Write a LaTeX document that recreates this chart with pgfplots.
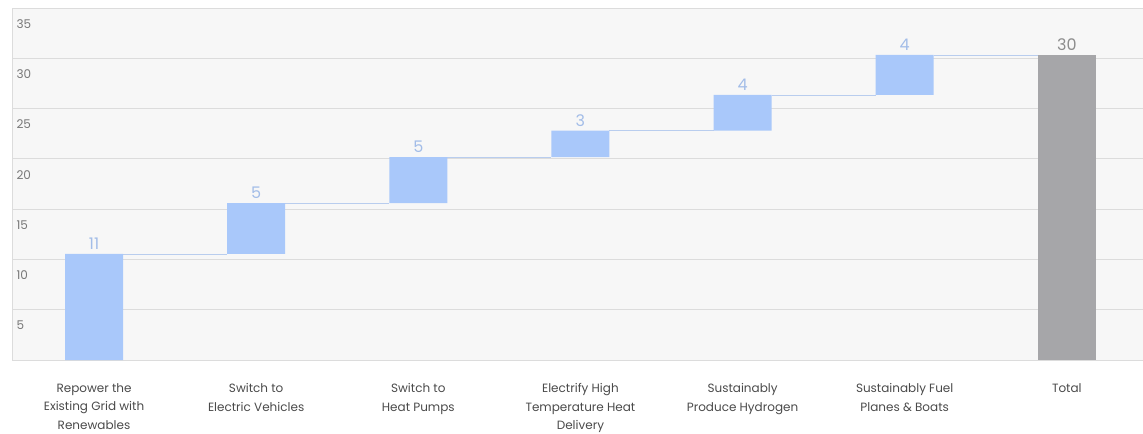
\documentclass[border=0pt]{standalone}
\usepackage{pgfplots}
\pgfplotsset{compat=1.18}
\usepackage{fontspec}
\setmainfont{Poppins}
\definecolor{bgc}{HTML}{F7F7F7}
\definecolor{gridc}{HTML}{DCDCDC}
\definecolor{barblue}{HTML}{A9C8FA}
\definecolor{bargray}{HTML}{A6A6A9}
\definecolor{lblblue}{HTML}{A3BDE8}
\definecolor{lblgray}{HTML}{8C8C8C}
\definecolor{txtc}{HTML}{4A4A4A}
\definecolor{tickc}{HTML}{777777}
\definecolor{conc}{HTML}{B9CDEE}
\pgfplotsset{common/.style={
  scale only axis,
  width=1131pt, height=352pt,
  xmin=-0.506, xmax=6.47,
  ymin=0, ymax=35,
  clip=false}}
\begin{document}
\begin{tikzpicture}
\begin{axis}[
  common,
  ybar stacked,
  bar width=0.358,
  axis background/.style={fill=bgc},
  axis line style={draw=gridc},
  ymajorgrids,
  grid style={draw=gridc, line width=0.8pt},
  ytick={5,10,15,20,25,30,35},
  major tick length=0pt,
  yticklabel style={anchor=north west, xshift=1pt, yshift=-8pt, font=\fontsize{12}{14}\selectfont, text=tickc},
  /pgf/number format/assume math mode=true,
  xtick={0,1,2,3,4,5,6},
  xticklabels={{Repower the\\Existing Grid with\\Renewables},{Switch to\\Electric Vehicles},{Switch to\\Heat Pumps},{Electrify High\\Temperature Heat\\Delivery},{Sustainably\\Produce Hydrogen},{Sustainably Fuel\\Planes \& Boats},{Total}},
  xticklabel style={align=center, font=\fontsize{12}{18.5}\selectfont, text=txtc, yshift=-20pt},
]
% invisible base
\addplot[draw=none, fill=none] coordinates {
 (0,0) (1,10.54) (2,15.61) (3,20.16) (4,22.80) (5,26.35) (6,0)};
% blue increments
\addplot[draw=none, fill=barblue] coordinates {
 (0,10.54) (1,5.07) (2,4.55) (3,2.64) (4,3.55) (5,3.98) (6,0)};
% total
\addplot[draw=none, fill=bargray] coordinates {
 (0,0) (1,0) (2,0) (3,0) (4,0) (5,0) (6,30.33)};
% connectors
\addplot[stack plots=false, sharp plot, draw=conc, line width=0.9pt, unbounded coords=jump, mark=none] coordinates {
 (0.179,10.54) (0.821,10.54) (nan,nan)
 (1.179,15.61) (1.821,15.61) (nan,nan)
 (2.179,20.16) (2.821,20.16) (nan,nan)
 (3.179,22.80) (3.821,22.80) (nan,nan)
 (4.179,26.35) (4.821,26.35) (nan,nan)
 (5.179,30.33) (5.821,30.33)};
\end{axis}
\begin{axis}[
  common,
  hide axis,
  point meta=explicit symbolic,
  nodes near coords,
  every node near coord/.append style={anchor=south, font=\fontsize{16}{18}\selectfont, yshift=1pt},
]
\addplot[only marks, mark=none, every node near coord/.append style={text=lblblue}] coordinates {
 (0,10.54)[11] (1,15.61)[5] (2,20.16)[5] (3,22.80)[3] (4,26.35)[4] (5,30.33)[4]};
\addplot[only marks, mark=none, every node near coord/.append style={text=lblgray}] coordinates {
 (6,30.33)[30]};
\end{axis}
\pgfresetboundingbox
\path ([shift={(-12pt,-73pt)}]current axis.south west) rectangle ([shift={(0pt,8pt)}]current axis.north east);
\end{tikzpicture}
\end{document}
